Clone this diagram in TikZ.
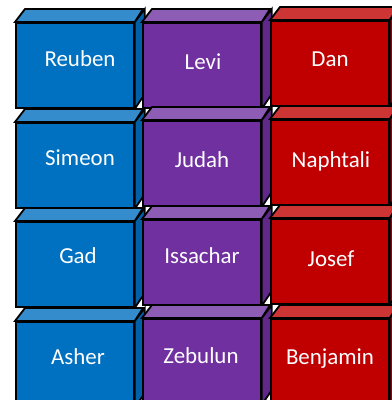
\documentclass[tikz,border=0pt]{standalone}
\usepackage{fontspec}
\setmainfont{Carlito}
\definecolor{bluefront}{HTML}{0070C0}
\definecolor{bluetop}{HTML}{358CCD}
\definecolor{blueside}{HTML}{0061A8}
\definecolor{purplefront}{HTML}{7030A0}
\definecolor{purpletop}{HTML}{8D5CB5}
\definecolor{purpleside}{HTML}{5F2889}
\definecolor{redfront}{HTML}{C00000}
\definecolor{redtop}{HTML}{CD3434}
\definecolor{redside}{HTML}{A20000}
\tikzset{
  face/.style={draw=black, line width=1.8bp, line join=miter},
  frontface/.style={face, rectangle, minimum width=118bp, minimum height=85bp, inner sep=0pt, anchor=north west},
  lab/.style={text=white, font=\fontsize{23}{27}\selectfont, anchor=base, inner sep=0pt},
}
\newcommand\tribecube[4]{%
  \node[frontface, fill=#4front] (#1) at (#2,#3) {};
  \filldraw[face, fill=#4top] (#1.north west) -- ++(10,-13) -- ++(118,0) -- (#1.north east) -- cycle;
  \filldraw[face, fill=#4side] (#1.north east) -- ++(10,-13) -- ++(0,85) -- (#1.south east) -- cycle;
}
\begin{document}
\begin{tikzpicture}[x=1bp,y=-1bp]
\useasboundingbox (0,0) rectangle (392,400);
% row 1
\tribecube{reuben}{15}{22}{blue}
\tribecube{levi}{142}{22}{purple}
\tribecube{dan}{270}{20}{red}
% row 2
\tribecube{simeon}{15}{122}{blue}
\tribecube{judah}{142}{120}{purple}
\tribecube{naphtali}{270}{119}{red}
% row 3
\tribecube{gad}{15}{221}{blue}
\tribecube{issachar}{142}{219}{purple}
\tribecube{josef}{270}{218}{red}
% row 4
\tribecube{asher}{15}{321}{blue}
\tribecube{zebulun}{142}{318}{purple}
\tribecube{benjamin}{270}{318}{red}
% labels
\node[lab] (reubenT) at (80,66) {Reuben};
\node[lab] (leviT) at (203,69) {Levi};
\node[lab] (danT) at (330,66) {Dan};
\node[lab] (simeonT) at (80,165) {Simeon};
\node[lab] (judahT) at (202,167) {Judah};
\node[lab] (naphtaliT) at (331,167) {Naphtali};
\node[lab] (gadT) at (78,263) {Gad};
\node[lab] (issacharT) at (202,263) {Issachar};
\node[lab] (josefT) at (331,266) {Josef};
\node[lab] (asherT) at (78,364) {Asher};
\node[lab] (zebulunT) at (201,363) {Zebulun};
\node[lab] (benjaminT) at (330,364) {Benjamin};
\end{tikzpicture}
\end{document}
